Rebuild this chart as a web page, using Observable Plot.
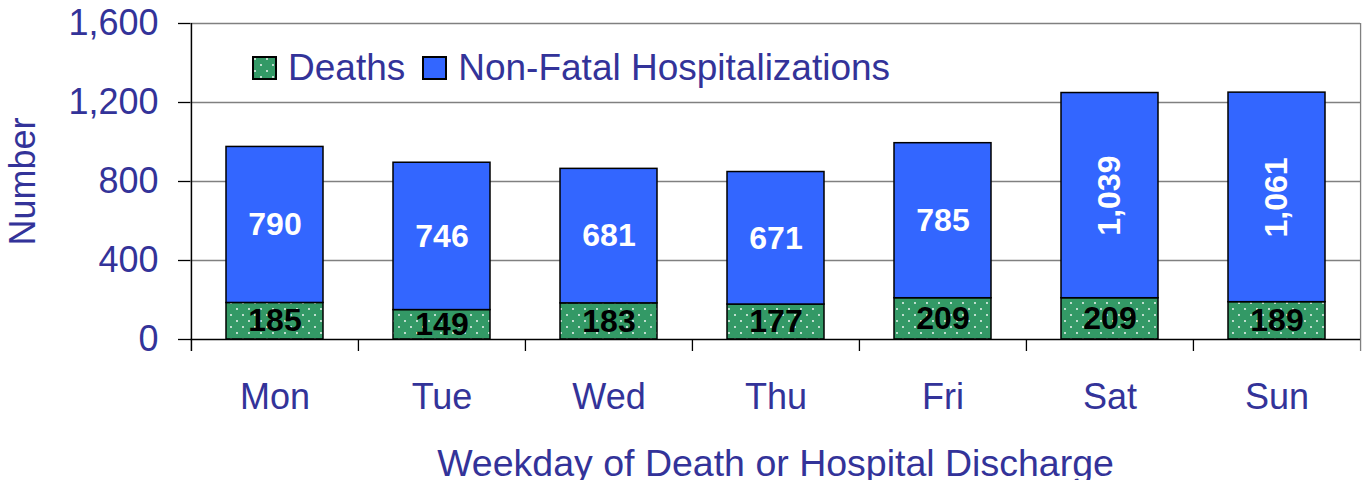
<!DOCTYPE html>
<html><head><meta charset="utf-8">
<script src="https://cdn.jsdelivr.net/npm/d3@7"></script>
<script src="https://cdn.jsdelivr.net/npm/@observablehq/plot@0.6"></script>
<style>
body{margin:0;background:#fff;font-family:"Liberation Sans",Arial,sans-serif;}
#wrap{position:relative;width:1365px;height:480px;}
#legend{position:absolute;left:252px;top:50px;display:flex;align-items:center;font-size:37px;line-height:36px;color:#333399;white-space:nowrap;}
#legend .item{display:flex;align-items:center;margin-right:17px;}
</style></head><body>
<div id="wrap"><div id="legend"></div></div>
<script>
const days = ["Mon","Tue","Wed","Thu","Fri","Sat","Sun"];
const deaths = [185,149,183,177,209,209,189];
const nonFatal = [790,746,681,671,785,1039,1061];
const series = ["Deaths","Non-Fatal Hospitalizations"];
const seriesFill = ["url(#dots)","#3366FF"];
const yTicks = [0,400,800,1200,1600];
const xTitle = "Weekday of Death or Hospital Discharge";
const yTitle = "Number";

const data = [];
days.forEach((d,i)=>{
  data.push({day:d, series:series[0], value:deaths[i]});
  data.push({day:d, series:series[1], value:nonFatal[i]});
});

const W = 1365, H = 480, mL = 190, mR = 5, mT = 23, mB = 141;
const step = (W - mL - mR) / days.length;
const fmt = d3.format(",");
const textColor = "#333399";
const grid = "#808080";

const chart = Plot.plot({
  width: W, height: H,
  marginLeft: mL, marginRight: mR, marginTop: mT, marginBottom: mB,
  style: {fontFamily: '"Liberation Sans", Arial, sans-serif', background: "transparent"},
  x: {type: "band", domain: days, padding: 0},
  y: {domain: [0, 1600]},
  color: {type: "ordinal", domain: series, range: seriesFill},
  marks: [
    Plot.gridY(yTicks.slice(1), {stroke: grid, strokeOpacity: 1, strokeWidth: 1.3}),
    Plot.ruleX(days.slice(-1), {x: d=>d, dx: step/2, y1: 0, y2: 1600, insetTop: 12, stroke: grid, strokeWidth: 1.3}),
    Plot.barY(data, Plot.stackY({x: "day", y: "value", z: "series", fill: "series",
      stroke: "black", strokeWidth: 1.5, insetLeft: 35, insetRight: 35})),
    Plot.text(data, Plot.stackY({x: "day", y: "value", z: "series",
      text: d => d.series === series[0] ? fmt(d.value) : "",
      fill: "black", fontSize: 32, fontWeight: "bold"})),
    Plot.text(data, Plot.stackY({x: "day", y: "value", z: "series",
      text: d => d.series === series[1] ? fmt(d.value) : "",
      rotate: d => d.value >= 1000 ? -90 : 0,
      fill: "white", fontSize: 32, fontWeight: "bold"})),
    Plot.ruleY([0], {stroke: "black", strokeWidth: 1.5}),
    Plot.ruleX(days.slice(0,1), {x: d=>d, dx: -step/2, y1: 0, y2: 1600, insetTop: 12, stroke: "black", strokeWidth: 1.5}),
    Plot.ruleX(days.slice(1), {x: d=>d, dx: -step/2, y1: 0, y2: 0, insetTop: 12, stroke: "black", strokeWidth: 1.3}),
    Plot.axisY({ticks: yTicks, tickFormat: fmt, tickSize: 12, tickPadding: 20, stroke: "black", strokeWidth: 1.3,
      fill: textColor, fontSize: 36, label: null}),
    Plot.axisX({tickSize: 0, tickPadding: 44, fill: textColor, fontSize: 36, label: null}),
    Plot.text([yTitle], {frameAnchor: "left", dx: -167, rotate: -90, textAnchor: "middle", lineAnchor: "middle", fill: textColor, fontSize: 36}),
    Plot.text([xTitle], {frameAnchor: "bottom", dy: 124, textAnchor: "middle", lineAnchor: "middle", fill: textColor, fontSize: 37.5})
  ]
});

// dotted pattern for the Deaths series
const defs = `<defs><pattern id="dots" patternUnits="userSpaceOnUse" width="12" height="12">
<rect width="12" height="12" fill="#339966"/>
<circle cx="3" cy="3" r="0.9" fill="#fff"/><circle cx="9" cy="9" r="0.9" fill="#fff"/>
</pattern></defs>`;
chart.insertAdjacentHTML("afterbegin", defs);
chart.style.display = "block";
document.getElementById("wrap").prepend(chart);

// legend
const legend = document.getElementById("legend");
series.forEach((s,i)=>{
  const item = document.createElement("span");
  item.className = "item";
  const sw = document.createElementNS("http://www.w3.org/2000/svg","svg");
  sw.setAttribute("width", 25); sw.setAttribute("height", 24);
  sw.style.marginRight = "11px";
  sw.innerHTML = `<rect x="1" y="1" width="23" height="22" fill="${seriesFill[i]}" stroke="#000" stroke-width="2"/>`;
  item.appendChild(sw);
  const t = document.createElement("span");
  t.textContent = s;
  item.appendChild(t);
  legend.appendChild(item);
});
</script>
</body></html>
